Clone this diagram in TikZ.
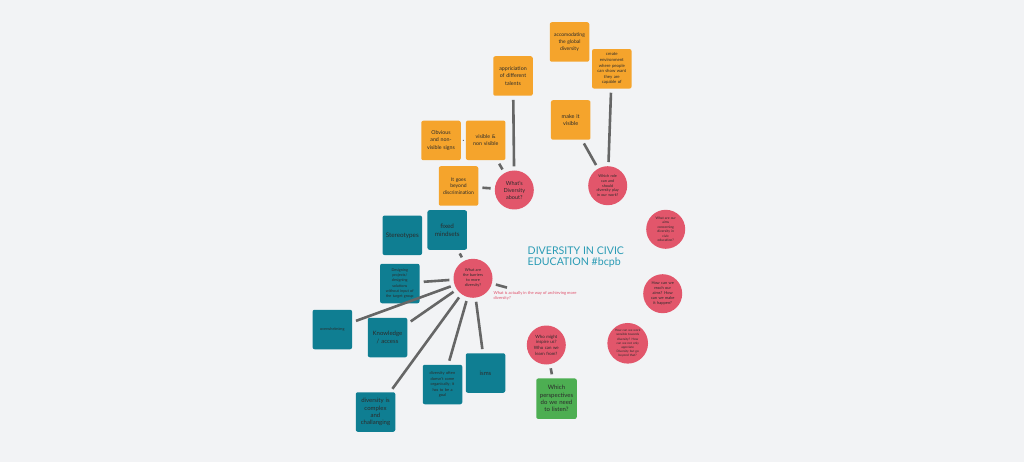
\documentclass[tikz,border=0pt]{standalone}
\usepackage{fontspec}
\setmainfont{Lato}
\definecolor{bgc}{HTML}{F2F3F5}
\definecolor{orc}{HTML}{F5A42C}
\definecolor{rdc}{HTML}{E2566B}
\definecolor{tlc}{HTML}{0F7E92}
\definecolor{gnc}{HTML}{4DAE52}
\definecolor{cnc}{HTML}{666666}
\definecolor{txc}{HTML}{2B2B2B}
\definecolor{ttc}{HTML}{2A9BB5}
\definecolor{rtc}{HTML}{E0506A}
\newcommand\myfs[2]{\fontsize{#1}{#2}\selectfont}
\tikzset{
  sq/.style={rectangle, rounded corners=2pt, minimum width=39.5pt, minimum height=39.5pt, inner sep=0pt, text width=37pt, align=center, text=txc},
  obox/.style={sq, fill=orc},
  tbox/.style={sq, fill=tlc},
  gbox/.style={sq, fill=gnc},
  rcirc/.style={circle, fill=rdc, minimum size=39pt, inner sep=0pt, text width=30pt, align=center, text=txc},
  conn/.style={draw=cnc, line width=2.6pt, shorten <=4pt, shorten >=4pt}
}
\begin{document}
\begin{tikzpicture}[x=1pt,y=-1pt]
\fill[bgc] (0,0) rectangle (1024,462);
\useasboundingbox (0,0) rectangle (1024,462);

% orange top right
\node[obox, font=\myfs{5}{6.6}] (acc) at (569.5,42) {accomodating\\the global\\diversity};
\node[obox, font=\myfs{4.3}{5.6}] (cre) at (611.8,68.8) {create\\environment\\where people\\can show want\\they are\\capable of};
\node[obox, font=\myfs{5.5}{7}] (mak) at (570.7,120) {make it\\visible};
\node[rcirc, font=\myfs{3.8}{4.9}] (rol) at (607.7,185.7) {Which role\\can and\\should\\diversity play\\in our work?};

% orange left
\node[obox, font=\myfs{5.3}{7.2}] (app) at (513,76) {appriciation\\of different\\talents};
\node[obox, font=\myfs{5.3}{7.2}] (obv) at (441,140.5) {Obvious\\and non-\\visible signs};
\node[obox, font=\myfs{5.3}{7.2}] (vis) at (485.7,140.3) {visible \&\\non visible};
\node[obox, font=\myfs{5}{6.4}] (goe) at (458.5,186) {It goes\\beyond\\discrimination};
\node[rcirc, font=\myfs{5.5}{7}] (wda) at (514.3,190) {What's\\Diversity\\about?};

% right circles
\node[rcirc, font=\myfs{3.4}{4.5}] (aim) at (665.7,229.3) {What are our\\aims\\concerning\\diversity in\\civic\\education?};
\node[rcirc, font=\myfs{4}{5.1}] (rea) at (662.7,293.7) {How can we\\reach our\\aims? How\\can we make\\it happen?};
\node[rcirc, font=\myfs{3.1}{4.1}] (wrk) at (627.7,343.3) {How can we work\\sensible towards\\diversity? How\\can we not only\\apprciate\\Diversity but go\\beyond that?};

% title
\node[anchor=north west, inner sep=0pt, align=left, text=ttc, font=\myfs{10.6}{11.5}] (ttl) at (527.5,246.5) {DIVERSITY IN CIVIC\\EDUCATION \#bcpb};

% inspire / green
\node[rcirc, font=\myfs{4.4}{5.6}] (ins) at (546.3,345) {Who might\\inspire us?\\Who can we\\learn from?};
\node[gbox, font=\myfs{6}{7.4}, minimum width=40.5pt, minimum height=40.5pt] (per) at (556.5,398.7) {Which\\perspectives\\do we need\\to listen?};

% barriers cluster
\node[rcirc, font=\myfs{3.9}{5}] (bar) at (473,278.3) {What are\\the barriers\\to more\\diversity?};
\node[anchor=north west, inner sep=0pt, align=left, text=rtc, font=\myfs{4.1}{5}] (rtx) at (493.5,291.5) {What is actually in the way of archieving more\\diversity?};
\coordinate (rtc1) at (507,287.6);
\node[tbox, font=\myfs{6.3}{7.6}] (ste) at (402.3,235.3) {Stereotypes};
\node[tbox, font=\myfs{6.3}{7.6}] (fix) at (447.2,230) {fixed\\mindsets};
\node[tbox, font=\myfs{3.8}{5.3}] (des) at (399.8,283.5) {Designing\\projects/\\designing\\solutions\\without input of\\the target group};
\node[tbox, font=\myfs{3.8}{5}] (ove) at (332.3,329.5) {overwhelmimg};
\node[tbox, font=\myfs{6}{7.2}] (kno) at (387.5,337.5) {Knowledge\\/ access};
\node[tbox, font=\myfs{4}{5.4}] (oft) at (442.5,384.5) {diversity often\\doesn't come\\organically; it\\has to be a\\goal};
\node[tbox, font=\myfs{6}{7.2}] (ism) at (485.5,373) {isms};
\node[tbox, font=\myfs{6}{7.3}] (cpx) at (375.5,412) {diversity is\\complex\\and\\challanging};

% connectors
\draw[conn] (cre) -- (rol);
\draw[conn] (mak) -- (rol);
\draw[conn] (app) -- (wda);
\draw[conn] (vis) -- (wda);
\draw[conn] (goe) -- (wda);
\draw[conn, shorten <=2pt, shorten >=2pt, line width=1pt] (obv) -- (vis);
\draw[conn] (ins) -- (per);
\draw[conn] (fix) -- (bar);
\draw[conn] (des) -- (bar);
\draw[conn] (ove) -- (bar);
\draw[conn] (kno) -- (bar);
\draw[conn] (cpx) -- (bar);
\draw[conn] (oft) -- (bar);
\draw[conn] (ism) -- (bar);
\draw[conn, shorten >=0pt] (bar) -- (rtc1);
\end{tikzpicture}
\end{document}
